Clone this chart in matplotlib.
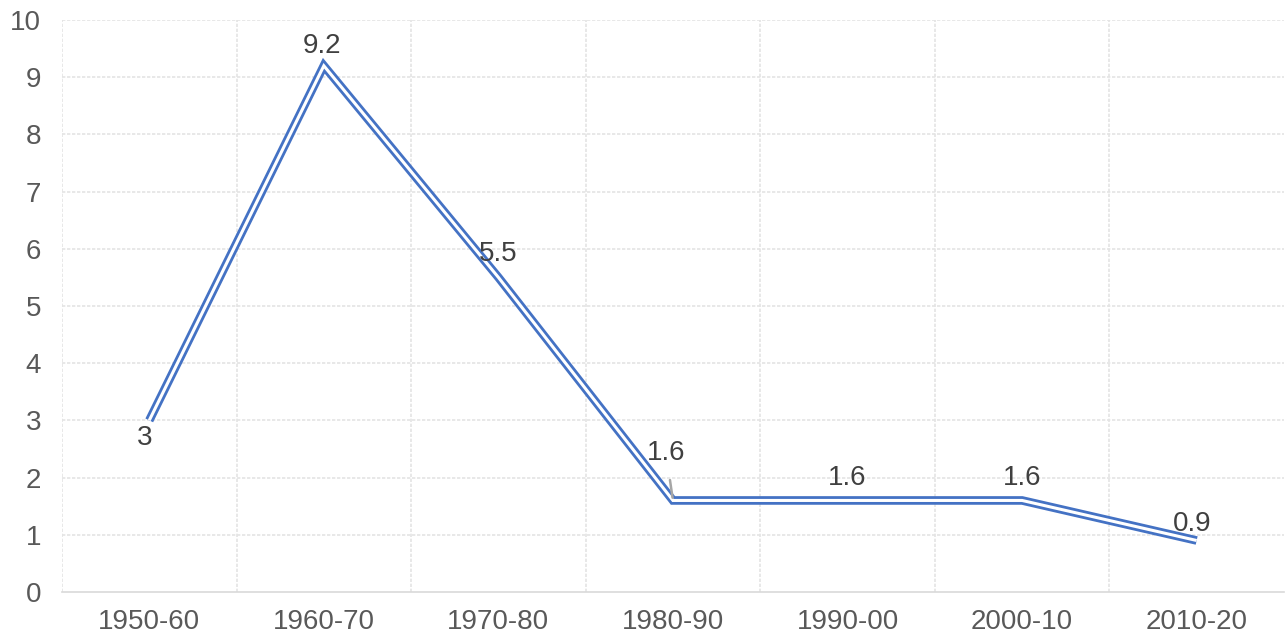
import matplotlib.pyplot as plt
import numpy as np

plt.rcParams['font.family'] = ['Liberation Sans', 'DejaVu Sans']

periods = ["1950-60", "1960-70", "1970-80", "1980-90", "1990-00", "2000-10", "2010-20"]
values = [3, 9.2, 5.5, 1.6, 1.6, 1.6, 0.9]
# label offsets in points (dx, dy) relative to each point
label_offsets = [(-3, -13), (-1, 14), (0, 17), (-5, 34), (0, 16), (0, 16), (-3, 12)]

blue = "#4472C4"
grid_col = "#E4E4E4"
text_col = "#404040"

fig = plt.figure(figsize=(12.86, 6.39), dpi=100)
ax = fig.add_axes([0.0482, 0.0736, 0.9502, 0.8951])

x = np.arange(len(periods))
# double compound line: wide blue stroke with a thin white core
ax.plot(x, values, color=blue, lw=6.2, solid_joinstyle="miter", solid_capstyle="butt", zorder=3)
ax.plot(x, values, color="white", lw=2.2, solid_joinstyle="miter", solid_capstyle="butt", zorder=4)

for i, (v, off) in enumerate(zip(values, label_offsets)):
    if i == 3:
        ax.annotate(f"{v:g}", xy=(i, v), xytext=off, textcoords="offset points",
                    ha="center", va="center", fontsize=20, color=text_col, zorder=5,
                    arrowprops=dict(arrowstyle="-", color="#A6A6A6", lw=1.8,
                                    shrinkA=8, shrinkB=2))
    else:
        ax.annotate(f"{v:g}", xy=(i, v), xytext=off, textcoords="offset points",
                    ha="center", va="center", fontsize=20, color=text_col, zorder=5)

ax.set_xlim(-0.5, len(periods) - 0.5)
ax.set_ylim(0, 10)
ax.set_yticks(np.arange(0, 11, 1))
ax.set_xticks(x)
ax.set_xticklabels(periods)

# gridlines: horizontal at each unit, vertical between categories
for yv in range(1, 11):
    ax.axhline(yv, color=grid_col, lw=1.2, ls=(0, (2, 1)), zorder=1)
for xv in np.arange(-0.5, len(periods) - 0.5, 1.0):
    ax.axvline(xv, color=grid_col, lw=1.2, ls=(0, (2, 1)), zorder=1)

for side in ["top", "right", "left"]:
    ax.spines[side].set_visible(False)
ax.spines["bottom"].set_color("#D9D9D9")
ax.spines["bottom"].set_linewidth(1.2)

ax.tick_params(axis="both", length=0, labelsize=20, labelcolor="#595959")
ax.tick_params(axis="x", pad=12)
ax.tick_params(axis="y", pad=15)

fig.savefig("out.png", dpi=100)
